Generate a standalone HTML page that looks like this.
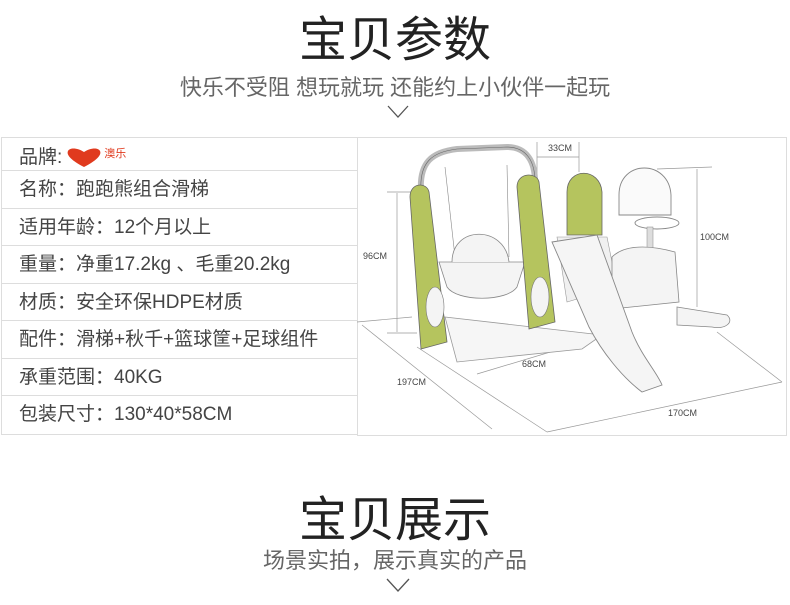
<!DOCTYPE html>
<html><head><meta charset="utf-8"><style>
body{margin:0;width:790px;height:605px;background:#fff;position:relative;overflow:hidden;font-family:"Liberation Sans","Noto Sans CJK SC",sans-serif;}
.t{position:absolute;white-space:nowrap;}
.title{font-size:48px;color:#222;left:0;width:790px;text-align:center;font-weight:400;}
.sub{color:#666;left:0;width:790px;text-align:center;}
.tbl{position:absolute;left:1px;top:137px;width:355px;border:1px solid #ddd;}
.row{height:37.5px;border-bottom:1px solid #ddd;font-size:19px;color:#444;line-height:37px;padding-left:17px;box-sizing:border-box;}
.row:last-child{border-bottom:none}
.panel{position:absolute;left:357px;top:137px;width:430px;height:299px;border:1px solid #ddd;box-sizing:border-box;}
</style></head><body>
<div class="t title" style="top:0px;">宝贝参数</div>
<div class="t sub" style="top:70px;font-size:22px;">快乐不受阻 想玩就玩 还能约上小伙伴一起玩</div>
<svg style="position:absolute;left:386px;top:104px" width="24" height="16"><polyline points="2,2 12,13 22,2" fill="none" stroke="#555" stroke-width="1.3"/></svg>

<div class="tbl">
<div class="row" style="height:33px;line-height:33px">品牌:<svg width="40" height="22" style="vertical-align:middle;margin-left:2px"><path d="M20 20 C8 14 2 8 4 4 C6 0 14 1 20 5 C26 1 34 0 36 4 C38 8 32 14 20 20Z" fill="#e03a1e"/></svg><span style="font-size:11px;color:#e03a1e;vertical-align:6px">澳乐</span></div>
<div class="row">名称：跑跑熊组合滑梯</div>
<div class="row">适用年龄：12个月以上</div>
<div class="row">重量：净重17.2kg 、毛重20.2kg</div>
<div class="row">材质：安全环保HDPE材质</div>
<div class="row">配件：滑梯+秋千+篮球筐+足球组件</div>
<div class="row">承重范围：40KG</div>
<div class="row">包装尺寸：130*40*58CM</div>
</div>

<div class="panel"></div>
<svg style="position:absolute;left:357px;top:137px" width="430" height="299" font-family="Liberation Sans" font-size="9" fill="#444">
<g fill="none" stroke="#999" stroke-width="0.7">
<line x1="0" y1="185" x2="55" y2="180"/><line x1="5" y1="188" x2="135" y2="292"/>
<line x1="40" y1="56" x2="40" y2="195"/>
<line x1="30" y1="55" x2="60" y2="55"/><line x1="30" y1="196" x2="60" y2="196"/>
<line x1="60" y1="210" x2="190" y2="295"/>
<line x1="190" y1="295" x2="425" y2="245"/><line x1="360" y1="195" x2="425" y2="245"/>
<line x1="120" y1="237" x2="220" y2="207"/><line x1="180" y1="20" x2="222" y2="20"/>
<line x1="222" y1="5" x2="222" y2="35"/><line x1="300" y1="32" x2="355" y2="30"/>
<line x1="340" y1="32" x2="340" y2="170"/><line x1="180" y1="5" x2="180" y2="40"/>
</g>
<!-- swing frame -->
<path d="M64 55 C62 25 75 15 100 12 L150 10 C170 10 178 25 178 45" fill="none" stroke="#bbb" stroke-width="6"/>
<path d="M64 55 C62 25 75 15 100 12 L150 10 C170 10 178 25 178 45" fill="none" stroke="#666" stroke-width="0.6"/>
<line x1="88" y1="30" x2="98" y2="120" stroke="#888" stroke-width="0.6"/><line x1="150" y1="28" x2="152" y2="120" stroke="#888" stroke-width="0.6"/>
<!-- base -->
<path d="M88 180 L245 198 L225 212 L100 225 Z" fill="#f6f6f6" stroke="#999" stroke-width="0.8"/>
<!-- swing seat -->
<path d="M82 125 L168 125 L160 150 C150 165 100 165 90 150Z" fill="#f4f4f4" stroke="#888" stroke-width="0.8"/>
<path d="M95 125 C95 88 148 88 152 125" fill="#f4f4f4" stroke="#888" stroke-width="0.8"/>
<!-- green panels -->
<path d="M53 60 C53 45 70 45 72 55 L90 205 L64 212 Z" fill="#b5c45e" stroke="#666" stroke-width="0.8"/>
<path d="M160 50 C160 35 180 35 182 45 L198 185 L172 192 Z" fill="#b5c45e" stroke="#666" stroke-width="0.8"/>
<path d="M210 55 C210 30 243 30 245 55 L245 98 L210 98 Z" fill="#b5c45e" stroke="#666" stroke-width="0.8"/>
<ellipse cx="78" cy="170" rx="9" ry="20" fill="#f4f4f4" stroke="#777" stroke-width="0.6"/>
<ellipse cx="183" cy="160" rx="9" ry="20" fill="#f4f4f4" stroke="#777" stroke-width="0.6"/>
<!-- slide ladder -->
<path d="M200 100 L250 100 L260 150 L210 165Z" fill="#f0f0f0" stroke="#999" stroke-width="0.6"/>
<!-- hoop -->
<path d="M262 58 C262 22 312 22 314 58 L314 78 L262 78Z" fill="#fafafa" stroke="#888" stroke-width="0.9"/>
<ellipse cx="300" cy="86" rx="22" ry="6" fill="none" stroke="#888" stroke-width="0.9"/>
<rect x="290" y="90" width="6" height="70" fill="#ddd" stroke="#888" stroke-width="0.5"/>
<path d="M255 120 C270 105 300 110 318 115 L322 165 L255 172Z" fill="#f4f4f4" stroke="#888" stroke-width="0.8"/>
<path d="M320 170 L370 178 C378 185 368 193 355 190 L320 188Z" fill="#f4f4f4" stroke="#888" stroke-width="0.8"/>
<!-- slide -->
<path d="M195 105 L240 98 L275 195 C285 220 300 235 305 248 L285 255 C265 240 245 215 232 190 Z" fill="#f5f5f5" stroke="#888" stroke-width="0.9"/>
<text x="191" y="14">33CM</text>
<text x="343" y="103">100CM</text>
<text x="6" y="122">96CM</text>
<text x="165" y="230">68CM</text>
<text x="40" y="248">197CM</text>
<text x="311" y="279">170CM</text>
</svg>

<div class="t title" style="top:480px;">宝贝展示</div>
<div class="t sub" style="top:543px;font-size:22px;">场景实拍，展示真实的产品</div>
<svg style="position:absolute;left:385px;top:576px" width="26" height="18"><polyline points="2,3 13,15 24,3" fill="none" stroke="#555" stroke-width="1.3"/></svg>
</body></html>
